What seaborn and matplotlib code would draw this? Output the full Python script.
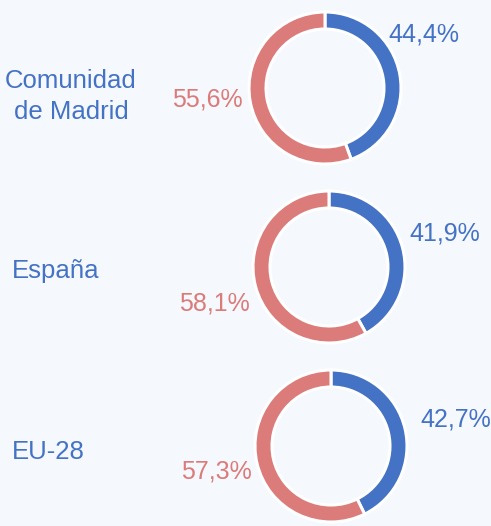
import matplotlib
matplotlib.use("Agg")
import matplotlib.pyplot as plt
import seaborn as sns

regions = ["Comunidad\nde Madrid", "España", "EU-28"]
blue_share = [44.4, 41.9, 42.7]
red_share = [55.6, 58.1, 57.3]

BLUE = "#4472C4"
RED = "#DB7B7A"
BG = "#F5F8FD"

sns.set_theme(style="white")
plt.rcParams['font.family'] = ['Liberation Sans', 'DejaVu Sans']

W, H = 491, 526
fig = plt.figure(figsize=(W / 100, H / 100), dpi=100, facecolor=BG)
ax = fig.add_axes([0, 0, 1, 1])
ax.set_facecolor(BG)

# layout (pixel coordinates, top-origin)
centers = [(325, 88), (329, 267), (331, 446)]
radius = 76
ring = 17
blue_lab = [(388, 41.5), (409, 240), (420, 427)]
red_lab = [(243, 106), (250, 310), (252, 478)]
reg_lab = [(71, 88, 'center'), (12, 278, 'left'), (12, 459, 'left')]

def fmt(v):
    return f"{v:.1f}".replace('.', ',') + '%'

for i in range(len(regions)):
    cx, cy = centers[i]
    ax.pie([blue_share[i], red_share[i]], colors=[BLUE, RED],
           center=(cx, H - cy), radius=radius, startangle=90,
           counterclock=False,
           wedgeprops=dict(width=ring, edgecolor='white', linewidth=2.2))
    bx, by = blue_lab[i]
    ax.text(bx, H - by, fmt(blue_share[i]), color=BLUE, fontsize=18,
            ha='left', va='baseline')
    rx, ry = red_lab[i]
    ax.text(rx, H - ry, fmt(red_share[i]), color=RED, fontsize=18,
            ha='right', va='baseline')
    lx, ly, ha = reg_lab[i]
    if '\n' in regions[i]:
        lines = regions[i].split('\n')
        for k, line in enumerate(lines):
            ax.text(lx, H - (ly + 31 * k), line, color=BLUE, fontsize=18.5,
                    ha='center', va='baseline')
    else:
        ax.text(lx, H - ly, regions[i], color=BLUE, fontsize=18.5,
                ha=ha, va='baseline')

ax.set_xlim(0, W)
ax.set_ylim(0, H)
ax.set_aspect('equal')
ax.set_position([0, 0, 1, 1])
ax.axis('off')

fig.savefig("out.png", dpi=100, facecolor=BG)
